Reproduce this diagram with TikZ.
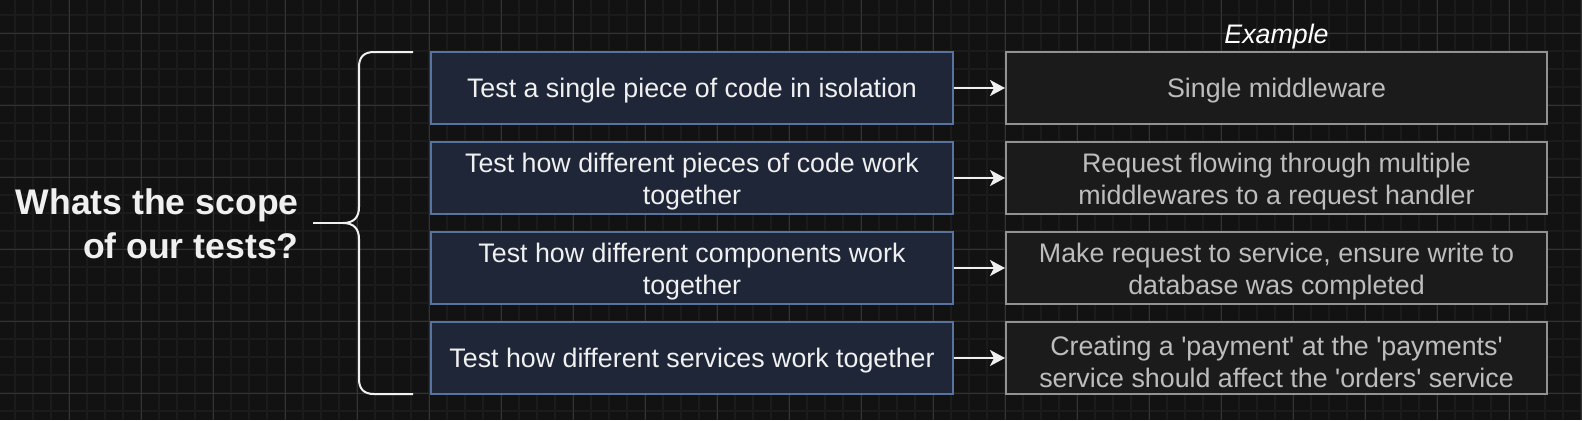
\documentclass[tikz,border=0pt]{standalone}
\usepackage{fontspec}
\setmainfont{Liberation Sans}
\usetikzlibrary{arrows.meta}
\definecolor{bgdark}{HTML}{121212}
\definecolor{gridminor}{HTML}{1B1B1B}
\definecolor{gridmajor}{HTML}{333333}
\definecolor{testfill}{HTML}{1E2638}
\definecolor{testline}{HTML}{58749E}
\definecolor{exfill}{HTML}{1B1B1B}
\definecolor{exline}{HTML}{929292}
\definecolor{extext}{HTML}{BDBDBD}
\definecolor{lighttext}{HTML}{F0F0F0}
\newcommand{\lowtext}{\rule{0pt}{13.4pt}}

\begin{document}
\begin{tikzpicture}[x=0.5pt, y=-0.5pt,
    testbox/.style={draw=testline, fill=testfill, line width=1pt, minimum width=261pt, minimum height=36pt, inner sep=0pt, align=center, text=lighttext, font=\fontsize{13.4pt}{16pt}\selectfont, execute at begin node={\rule{0pt}{12.4pt}}},
    exbox/.style={draw=exline, fill=exfill, line width=1pt, minimum width=270.5pt, minimum height=36pt, inner sep=0pt, align=center, text=extext, font=\fontsize{13.4pt}{16pt}\selectfont, execute at begin node={\rule{0pt}{12.4pt}}},
    link/.style={draw=lighttext, line width=1pt, -{Stealth[length=7.5pt, width=8pt, inset=2pt]}},
    brace/.style={draw=lighttext, line width=1pt},
    heading/.style={inner sep=0pt, align=right, text=lighttext, font=\fontsize{17.8pt}{22pt}\selectfont\bfseries},
    exlabel/.style={inner sep=0pt, text=white, font=\fontsize{13.4pt}{16pt}\selectfont\itshape}]
      \fill[bgdark] (0,0) rectangle (1582,420);
      \useasboundingbox (0,0) rectangle (1582,420);
      \foreach \g in {15,33,...,1581} \draw[gridminor, line width=1pt] (\g,0) -- (\g,420);
      \foreach \g in {15,33,...,411} \draw[gridminor, line width=1pt] (0,\g) -- (1582,\g);
      \foreach \g in {69,141,...,1581} \draw[gridmajor, line width=0.5pt] (\g,0) -- (\g,420);
      \foreach \g in {33,105,...,393} \draw[gridmajor, line width=0.5pt] (0,\g) -- (1582,\g);

      \node[heading, anchor=east] (title) at (299,224) {Whats the scope\\of our tests?};

      \node[testbox] (t1) at (692,88) {Test a single piece of code in isolation};
      \node[testbox] (t2) at (692,178) {\lowtext Test how different pieces of code work\\together};
      \node[testbox] (t3) at (692,268) {\lowtext Test how different components work\\together};
      \node[testbox] (t4) at (692,358) {Test how different services work together};

      \node[exbox] (e1) at (1276.5,88) {Single middleware};
      \node[exbox] (e2) at (1276.5,178) {\lowtext Request flowing through multiple\\middlewares to a request handler};
      \node[exbox] (e3) at (1276.5,268) {\lowtext Make request to service, ensure write to\\database was completed};
      \node[exbox] (e4) at (1276.5,358) {\lowtext Creating a \textquotesingle payment\textquotesingle\ at the \textquotesingle payments\textquotesingle\\service should affect the \textquotesingle orders\textquotesingle\ service};

      \node[exlabel, anchor=base] (example) at (1276.5,43) {Example};

      \coordinate (tip) at (343,223);
      \coordinate (stub) at (313,223);
      \draw[brace] (413,52) -- (374,52) .. controls (364,52) and (359,57) .. (359,67) -- (359,207) .. controls (359,217) and (354,223) .. (tip) .. controls (354,223) and (359,229) .. (359,239) -- (359,379) .. controls (359,389) and (364,394) .. (374,394) -- (413,394);
      \draw[brace] (stub) -- (tip);

      \draw[link] (t1) -- (e1);
      \draw[link] (t2) -- (e2);
      \draw[link] (t3) -- (e3);
      \draw[link] (t4) -- (e4);
\end{tikzpicture}
\end{document}
